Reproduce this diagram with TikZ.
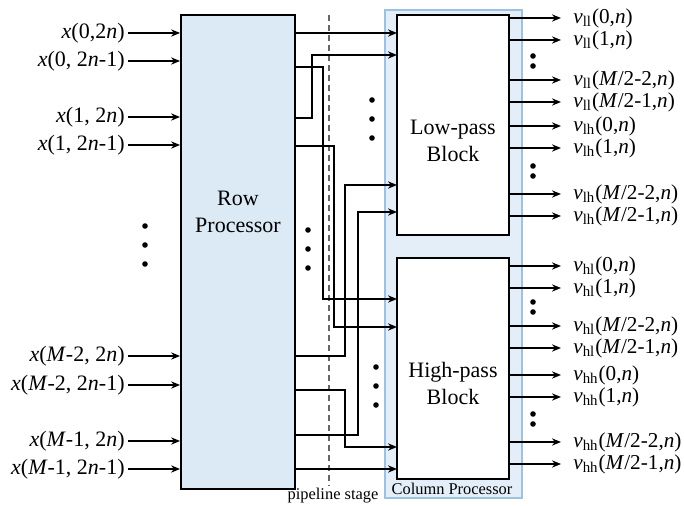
\documentclass[tikz,border=0pt]{standalone}
\usepackage{fontspec}
\setmainfont{Liberation Serif}
\usetikzlibrary{arrows.meta, positioning, calc}
\definecolor{rowfill}{HTML}{DCEAF5}
\definecolor{colfill}{HTML}{E3EEF8}
\definecolor{coledge}{HTML}{9CC2E0}

\begin{document}
\begin{tikzpicture}[
  x=0.5pt, y=-0.5pt,
  font=\fontsize{11}{13.5}\selectfont,
  blk/.style={draw, fill=white, line width=0.9pt, minimum width=56pt,
              minimum height=110pt, inner sep=0pt},
  rowblk/.style={blk, fill=rowfill, minimum width=57pt, minimum height=237pt},
  colblk/.style={draw=coledge, fill=colfill, line width=1pt, inner sep=0pt,
                 minimum width=68.5pt, minimum height=244pt},
  arr/.style={-{Stealth[length=4.5pt, width=3.6pt]}, line width=0.8pt},
  inlbl/.style={anchor=east, inner xsep=1.5pt, inner ysep=0pt},
  outlbl/.style={anchor=west, inner xsep=6pt, inner ysep=0pt,
                 font=\fontsize{10.6}{12}\selectfont},
  small/.style={font=\fontsize{8.2}{10}\selectfont, inner sep=1pt},
  pipe/.style={densely dashed, black!60, line width=1pt},
]
\useasboundingbox (0,0) rectangle (684,506);

% Blocks
\node[colblk] (colp) at (453.5,254) {};
\node[blk] (lp) at (453,125) {};
\node[blk, minimum height=110.5pt] (hp) at (453,368.5) {};
\node[rowblk] (row) at (238,252) {};

\node[align=center] (rowtxt) at (238,212) {Row\\Processor};
\node[align=center] (lptxt) at (453,141) {Low-pass\\Block};
\node[align=center] (hptxt) at (453,383) {High-pass\\Block};
\node[small] (coltxt) at (452,489) {Column Processor};
\node[small] (pipetxt) at (333,496) {pipeline stage};

% Pipeline stage
\coordinate (pipetop) at (329,15);
\draw[pipe] (pipetop) -- (pipetop |- pipetxt.north);

% Inputs
\node[inlbl] (x0a) at (128,33) {\textit{x}(0,2\textit{n})};
\node[inlbl] (x0b) at (128,61) {\textit{x}(0, 2\textit{n}-1)};
\node[inlbl] (x1a) at (128,117) {\textit{x}(1, 2\textit{n})};
\node[inlbl] (x1b) at (128,145) {\textit{x}(1, 2\textit{n}-1)};
\node[inlbl] (xm2a) at (128,356) {\textit{x}(\textit{M}-2, 2\textit{n})};
\node[inlbl] (xm2b) at (128,385) {\textit{x}(\textit{M}-2, 2\textit{n}-1)};
\node[inlbl] (xm1a) at (128,441) {\textit{x}(\textit{M}-1, 2\textit{n})};
\node[inlbl] (xm1b) at (128,469) {\textit{x}(\textit{M}-1, 2\textit{n}-1)};

\draw[arr] (x0a) -- (x0a -| row.west);
\draw[arr] (x0b) -- (x0b -| row.west);
\draw[arr] (x1a) -- (x1a -| row.west);
\draw[arr] (x1b) -- (x1b -| row.west);
\draw[arr] (xm2a) -- (xm2a -| row.west);
\draw[arr] (xm2b) -- (xm2b -| row.west);
\draw[arr] (xm1a) -- (xm1a -| row.west);
\draw[arr] (xm1b) -- (xm1b -| row.west);

\fill (145,226) circle (1.4pt) (145,245) circle (1.4pt) (145,264) circle (1.4pt);

% Row processor outputs
\coordinate (r1) at (295,33);
\coordinate (r2) at (295,67);
\coordinate (r3) at (295,118);
\coordinate (r4) at (295,146);
\coordinate (r5) at (295,356);
\coordinate (r6) at (295,390);
\coordinate (r7) at (295,435);
\coordinate (r8) at (295,469);
% Column processor inputs
\coordinate (l1) at (397,33);
\coordinate (l2) at (397,55);
\coordinate (l3) at (397,185);
\coordinate (l4) at (397,212);
\coordinate (h1) at (397,299);
\coordinate (h2) at (397,327);
\coordinate (h3) at (397,447);
\coordinate (h4) at (397,469);

\draw[arr] (r1) -- (l1);
\draw[arr] (r3) -- ++(17,0) |- (l2);
\draw[arr] (r2) -- ++(28,0) |- (h1);
\draw[arr] (r4) -- ++(39,0) |- (h2);
\draw[arr] (r5) -- ++(50,0) |- (l3);
\draw[arr] (r6) -- ++(50,0) |- (h3);
\draw[arr] (r7) -- ++(63,0) |- (l4);
\draw[arr] (r8) -- (h4);

\fill (308,230) circle (1.4pt) (308,249) circle (1.4pt) (308,268) circle (1.4pt);
\fill (372,100) circle (1.4pt) (372,119) circle (1.4pt) (372,138) circle (1.4pt);
\fill (376,367) circle (1.4pt) (376,386) circle (1.4pt) (376,405) circle (1.4pt);

% Low-pass outputs
\node[outlbl] (ll0) at (561,18) {\textit{v}\textsubscript{ll}(0,\textit{n})};
\node[outlbl] (ll1) at (561,40) {\textit{v}\textsubscript{ll}(1,\textit{n})};
\node[outlbl] (ll2) at (561,80) {\textit{v}\textsubscript{ll}(\textit{M}/2-2,\textit{n})};
\node[outlbl] (ll3) at (561,102) {\textit{v}\textsubscript{ll}(\textit{M}/2-1,\textit{n})};
\node[outlbl] (lh0) at (561,126) {\textit{v}\textsubscript{lh}(0,\textit{n})};
\node[outlbl] (lh1) at (561,148) {\textit{v}\textsubscript{lh}(1,\textit{n})};
\node[outlbl] (lh2) at (561,194) {\textit{v}\textsubscript{lh}(\textit{M}/2-2,\textit{n})};
\node[outlbl] (lh3) at (561,216) {\textit{v}\textsubscript{lh}(\textit{M}/2-1,\textit{n})};

\draw[arr] (ll0 -| lp.east) -- (ll0);
\draw[arr] (ll1 -| lp.east) -- (ll1);
\draw[arr] (ll2 -| lp.east) -- (ll2);
\draw[arr] (ll3 -| lp.east) -- (ll3);
\draw[arr] (lh0 -| lp.east) -- (lh0);
\draw[arr] (lh1 -| lp.east) -- (lh1);
\draw[arr] (lh2 -| lp.east) -- (lh2);
\draw[arr] (lh3 -| lp.east) -- (lh3);

% High-pass outputs
\node[outlbl] (hl0) at (561,266) {\textit{v}\textsubscript{hl}(0,\textit{n})};
\node[outlbl] (hl1) at (561,288) {\textit{v}\textsubscript{hl}(1,\textit{n})};
\node[outlbl] (hl2) at (561,326) {\textit{v}\textsubscript{hl}(\textit{M}/2-2,\textit{n})};
\node[outlbl] (hl3) at (561,348) {\textit{v}\textsubscript{hl}(\textit{M}/2-1,\textit{n})};
\node[outlbl] (hh0) at (561,375) {\textit{v}\textsubscript{hh}(0,\textit{n})};
\node[outlbl] (hh1) at (561,397) {\textit{v}\textsubscript{hh}(1,\textit{n})};
\node[outlbl] (hh2) at (561,442) {\textit{v}\textsubscript{hh}(\textit{M}/2-2,\textit{n})};
\node[outlbl] (hh3) at (561,464) {\textit{v}\textsubscript{hh}(\textit{M}/2-1,\textit{n})};

\draw[arr] (hl0 -| hp.east) -- (hl0);
\draw[arr] (hl1 -| hp.east) -- (hl1);
\draw[arr] (hl2 -| hp.east) -- (hl2);
\draw[arr] (hl3 -| hp.east) -- (hl3);
\draw[arr] (hh0 -| hp.east) -- (hh0);
\draw[arr] (hh1 -| hp.east) -- (hh1);
\draw[arr] (hh2 -| hp.east) -- (hh2);
\draw[arr] (hh3 -| hp.east) -- (hh3);

\fill (533,56) circle (1.4pt) (533,66) circle (1.4pt);
\fill (533,166) circle (1.4pt) (533,176) circle (1.4pt);
\fill (533,302) circle (1.4pt) (533,312) circle (1.4pt);
\fill (533,414) circle (1.4pt) (533,424) circle (1.4pt);
\end{tikzpicture}
\end{document}
